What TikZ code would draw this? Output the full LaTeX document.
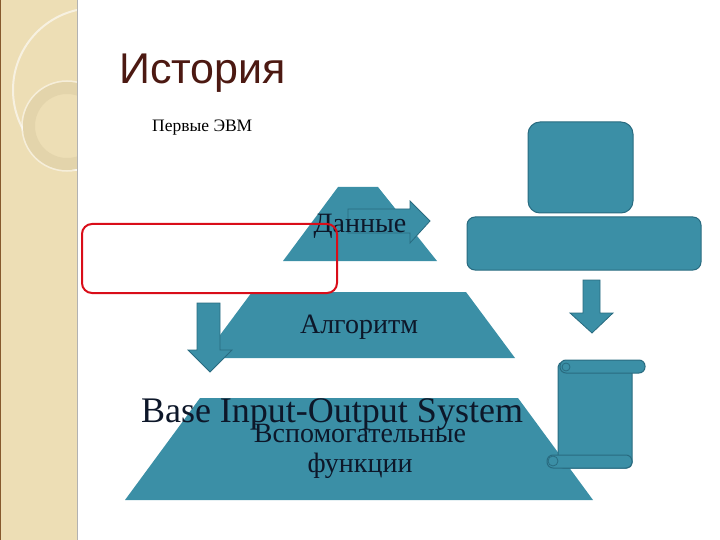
\documentclass[tikz,border=0pt]{standalone}
\usepackage{fontspec}
\setmainfont{Liberation Serif}
\newfontfamily\titlefont{Liberation Sans}
\usetikzlibrary{calc}
\definecolor{StripClr}{rgb}{0.93,0.87,0.71}
\definecolor{RingClr}{rgb}{0.89,0.83,0.67}
\definecolor{TealClr}{rgb}{0.23,0.56,0.65}
\definecolor{EdgeClr}{rgb}{0.16,0.42,0.50}
\definecolor{TitleClr}{rgb}{0.30,0.10,0.07}
\definecolor{FrameClr}{rgb}{0.85,0.05,0.10}
\definecolor{InkClr}{rgb}{0.05,0.09,0.16}

\begin{document}
\begin{tikzpicture}[x=1pt,y=-1pt,
  level/.style={fill=TealClr,draw=none},
  block/.style={fill=TealClr,draw=EdgeClr,line width=1pt,rounded corners=#1},
  block/.default=12pt,
  blockarrow/.style={fill=TealClr,draw=EdgeClr,line width=0.8pt,line join=miter},
  label/.style={font=\fontsize{28}{30}\selectfont,text=InkClr,inner sep=0pt}]
\useasboundingbox (0,0) rectangle (720,540);

% left strip
\fill[StripClr] (0,0) rectangle (77,540);
\begin{scope}
\clip (0,0) rectangle (77,540);
\draw[white,opacity=0.6,line width=2pt] (95,90) circle (82);
\draw[RingClr,line width=12pt] (67,126) circle (38);
\draw[white,opacity=0.5,line width=1.5pt] (67,126) circle (45);
\end{scope}
\draw[brown!70!black,line width=1.5pt] (0.7,0) -- (0.7,540);
\draw[gray!60,line width=1.2pt] (77.5,0) -- (77.5,540);

% title
\node[anchor=base west,inner sep=0pt,font=\titlefont\fontsize{43}{43}\selectfont,text=TitleClr] (title) at (119,84) {История};
\node[anchor=base west,inner sep=0pt,font=\fontsize{17.5}{17.5}\selectfont] (sub) at (152,132) {Первые ЭВМ};

% pyramid
\coordinate (A1) at (338,187); \coordinate (B1) at (378,187);
\coordinate (C1) at (437,261); \coordinate (D1) at (283,261);
\coordinate (A2) at (252,292); \coordinate (B2) at (466,292);
\coordinate (C2) at (515,358); \coordinate (D2) at (203,358);
\coordinate (A3) at (200,398); \coordinate (B3) at (518,398);
\coordinate (C3) at (593,500); \coordinate (D3) at (125,500);
\fill[level] (A1) -- (B1) -- (C1) -- (D1) -- cycle;
\fill[level] (A2) -- (B2) -- (C2) -- (D2) -- cycle;
\fill[level] (A3) -- (B3) -- (C3) -- (D3) -- cycle;

% arrow over the top level
\draw[blockarrow] (348,209) -- (410,209) -- (410,201) -- (430,221)
  -- (410,243) -- (410,233) -- (348,233) -- cycle;

\node[label,anchor=base] (data) at (360,233) {Данные};
\node[label,anchor=base] (algo) at (359,333) {Алгоритм};
\node[label,anchor=base,align=center] (aux) at (360,472) {Вспомогательные\\функции};
\node[anchor=base,inner sep=0pt,font=\fontsize{36}{36}\selectfont,text=InkClr] (bios) at (332,422) {Base Input-Output System};

% red frame
\draw[FrameClr,line width=2pt,rounded corners=10pt] (82,224) rectangle (337,293);

% down arrows
\draw[blockarrow] (197,303) -- (220,303) -- (220,350) -- (232,350) -- (210,372)
  -- (188,350) -- (197,350) -- cycle;
\draw[blockarrow] (583,280) -- (600,280) -- (600,313) -- (613,313) -- (592,333)
  -- (570,313) -- (583,313) -- cycle;

% right column
\draw[block] (528,122) rectangle (633,213);
\draw[block=8pt] (467,217) rectangle (701,270);

% scroll
\draw[block=5pt] (558,362) rectangle (632,468);
\draw[fill=TealClr,draw=EdgeClr,line width=1pt,rounded corners=6pt] (560,360) rectangle (645,373);
\draw[fill=TealClr,draw=EdgeClr,line width=0.8pt] (566,367) circle (4);
\draw[fill=TealClr,draw=EdgeClr,line width=1pt,rounded corners=6pt] (547,455) rectangle (632,468);
\draw[fill=TealClr,draw=EdgeClr,line width=0.8pt] (553,461) circle (5);
\end{tikzpicture}
\end{document}
